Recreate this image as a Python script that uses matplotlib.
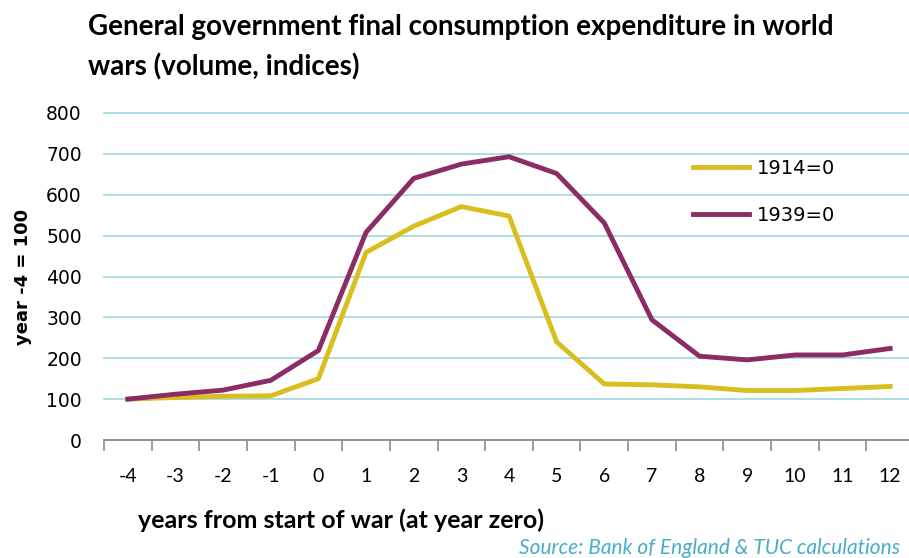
import numpy as np
import matplotlib.pyplot as plt

# years relative to start of war
years = [-4, -3, -2, -1, 0, 1, 2, 3, 4, 5, 6, 7, 8, 9, 10, 11, 12]
ww1 = [100, 104, 107, 108, 150, 459, 523, 571, 548, 240, 137, 135, 130, 121, 121, 126, 131]
ww2 = [100, 112, 122, 146, 219, 508, 640, 675, 693, 652, 531, 294, 205, 196, 208, 208, 224]
y_ticks = [0, 100, 200, 300, 400, 500, 600, 700, 800]

plt.rcParams['font.family'] = ['Lato', 'DejaVu Sans']
plt.rcParams['axes.unicode_minus'] = False

fig = plt.figure(figsize=(9.09, 5.58), dpi=100)
ax = fig.add_axes([104/909, 1 - 440/558, 810/909, 327/558])

ax.plot(years, ww1, color='#D8BE1F', lw=3.5, label='1914=0')
ax.plot(years, ww2, color='#8B2C64', lw=3.5, label='1939=0')

ax.set_xlim(-4.5, 12.5)
ax.set_ylim(0, 800)
ax.set_yticks(y_ticks)
ax.set_xticks(years)
ax.set_xticks(np.arange(-4.5, 12.6, 1), minor=True)
ax.grid(axis='y', color='#A6DBE0', lw=1.3)
for gl in ax.yaxis.get_gridlines():
    gl.set_clip_on(False)
ax.set_axisbelow(True)

for s in ['top', 'right', 'left']:
    ax.spines[s].set_visible(False)
ax.spines['bottom'].set_color('#8C8C8C')
ax.spines['bottom'].set_linewidth(1.3)
ax.tick_params(axis='y', length=0, pad=16, labelsize=13.5)
for t in ax.get_yticklabels():
    t.set_fontfamily('DejaVu Sans')
ax.tick_params(axis='x', which='major', length=0, pad=20, labelsize=14)
ax.tick_params(axis='x', which='minor', length=8, width=1.2, color='#8C8C8C')

ax.set_ylabel('year -4 = 100', fontsize=13, fontweight='bold', family='DejaVu Sans', labelpad=10)
ax.set_xlabel('years from start of war (at year zero)', fontsize=18, fontweight='bold')
ax.xaxis.set_label_coords((138 - 104) / 810, -(508 - 440) / 327)
ax.xaxis.label.set_horizontalalignment('left')

leg = ax.legend(loc='upper left', bbox_to_anchor=((693 - 104) / 810, (440 - 159) / 327),
                frameon=False, prop={'family': 'DejaVu Sans', 'size': 14},
                handlelength=2.9, labelspacing=1.45, handletextpad=0.36,
                borderpad=0, borderaxespad=0)

fig.text(88/909, 1 - 27/558, 'General government final consumption expenditure in world',
         fontsize=20, fontweight='bold', va='center', ha='left')
fig.text(88/909, 1 - 67/558, 'wars (volume, indices)',
         fontsize=20, fontweight='bold', va='center', ha='left')
fig.text(900/909, 1 - 548/558, 'Source: Bank of England & TUC calculations',
         fontsize=15, style='italic', color='#4BACC6', va='center', ha='right')

fig.savefig('out.png', dpi=100)
